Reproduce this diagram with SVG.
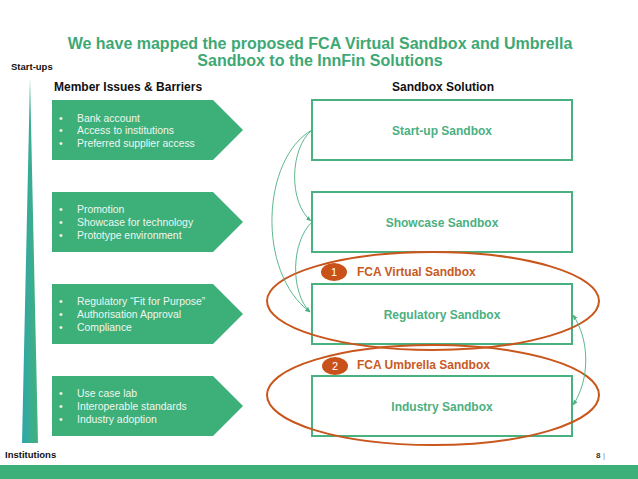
<svg xmlns="http://www.w3.org/2000/svg" width="638" height="479" viewBox="0 0 638 479">
<style>
text{font-family:"Liberation Sans",Arial,sans-serif}
.title{font-size:16px;font-weight:bold;fill:#3ea874}
.hdr{font-size:12px;font-weight:bold;fill:#111}
.axis{font-size:9.5px;font-weight:bold;fill:#111}
.chev{fill:#3daf78}
.ct{font-size:10.4px;fill:#eef7f2}
.box{fill:#fff;stroke:#49b07f;stroke-width:2}
.bt{font-size:12px;font-weight:bold;fill:#4bb07f;text-anchor:middle}
.ell{fill:none;stroke:#c9561c;stroke-width:2}
.badge{fill:#c9521a}
.bn{font-size:11px;fill:#fff;text-anchor:middle}
.ol{font-size:12px;font-weight:bold;fill:#c95a1e}
.con{fill:none;stroke:#4bb07f;stroke-width:0.9}
</style>
<defs>
<linearGradient id="tri" x1="0" y1="0" x2="1" y2="0">
<stop offset="0" stop-color="#2fa6ab"/>
<stop offset="1" stop-color="#42b27a"/>
</linearGradient>
<marker id="ah" viewBox="0 0 10 10" refX="9" refY="5" markerWidth="6" markerHeight="6" orient="auto-start-reverse">
<path d="M0,1 L10,5 L0,9 z" fill="#4bb07f"/>
</marker>
</defs>
<rect width="638" height="479" fill="#fff"/>
<g id="title">
<text class="title" x="320" y="49" text-anchor="middle">We have mapped the proposed FCA Virtual Sandbox and Umbrella</text>
<text class="title" x="320" y="66" text-anchor="middle">Sandbox to the InnFin Solutions</text>
</g>
<g id="axis">
<text class="axis" x="11" y="70">Start-ups</text>
<polygon points="30,78 38,443 22,443" fill="url(#tri)"/>
<text class="axis" x="5" y="458">Institutions</text>
</g>
<g id="headers">
<text class="hdr" x="54" y="91">Member Issues &amp; Barriers</text>
<text class="hdr" x="392" y="91">Sandbox Solution</text>
</g>
<g id="issue1">
<polygon class="chev" points="52,100 213,100 243,130 213,160 52,160"/>
<text class="ct" x="59" y="122">•</text><text class="ct" x="77" y="122">Bank account</text>
<text class="ct" x="59" y="134">•</text><text class="ct" x="77" y="134">Access to institutions</text>
<text class="ct" x="59" y="147">•</text><text class="ct" x="77" y="147">Preferred supplier access</text>
</g>
<g id="issue2">
<polygon class="chev" points="52,192 213,192 243,222 213,252 52,252"/>
<text class="ct" x="59" y="213">•</text><text class="ct" x="77" y="213">Promotion</text>
<text class="ct" x="59" y="226">•</text><text class="ct" x="77" y="226">Showcase for technology</text>
<text class="ct" x="59" y="239">•</text><text class="ct" x="77" y="239">Prototype environment</text>
</g>
<g id="issue3">
<polygon class="chev" points="52,284 213,284 243,314 213,344 52,344"/>
<text class="ct" x="59" y="305">•</text><text class="ct" x="77" y="305">Regulatory “Fit for Purpose”</text>
<text class="ct" x="59" y="318">•</text><text class="ct" x="77" y="318">Authorisation Approval</text>
<text class="ct" x="59" y="331">•</text><text class="ct" x="77" y="331">Compliance</text>
</g>
<g id="issue4">
<polygon class="chev" points="52,376 213,376 243,406 213,436 52,436"/>
<text class="ct" x="59" y="397">•</text><text class="ct" x="77" y="397">Use case lab</text>
<text class="ct" x="59" y="410">•</text><text class="ct" x="77" y="410">Interoperable standards</text>
<text class="ct" x="59" y="423">•</text><text class="ct" x="77" y="423">Industry adoption</text>
</g>
<g id="startup-sandbox">
<rect class="box" x="312" y="100" width="260" height="60"/>
<text class="bt" x="442" y="135">Start-up Sandbox</text>
</g>
<g id="showcase-sandbox">
<rect class="box" x="312" y="192" width="260" height="60"/>
<text class="bt" x="442" y="227">Showcase Sandbox</text>
</g>
<g id="regulatory-sandbox">
<rect class="box" x="312" y="284" width="260" height="60"/>
<text class="bt" x="442" y="319">Regulatory Sandbox</text>
</g>
<g id="industry-sandbox">
<rect class="box" x="312" y="376" width="260" height="60"/>
<text class="bt" x="442" y="411">Industry Sandbox</text>
</g>
<g id="fca-virtual">
<ellipse class="ell" cx="433" cy="301" rx="166" ry="49"/>
<ellipse class="badge" cx="334" cy="272" rx="13" ry="9"/>
<text class="bn" x="334" y="276">1</text>
<text class="ol" x="357" y="276">FCA Virtual Sandbox</text>
</g>
<g id="fca-umbrella">
<ellipse class="ell" cx="433" cy="395" rx="166" ry="50"/>
<ellipse class="badge" cx="335" cy="366" rx="13" ry="9"/>
<text class="bn" x="335" y="370">2</text>
<text class="ol" x="357" y="369">FCA Umbrella Sandbox</text>
</g>
<g id="connectors">
<path class="con" d="M312,130 C290,148 288,202 311,221" marker-end="url(#ah)"/>
<path class="con" d="M312,130 C262,158 256,272 310,312" marker-end="url(#ah)"/>
<path class="con" d="M312,222 C291,242 290,292 310,312" marker-end="url(#ah)"/>
<path class="con" d="M573,315 C590,340 590,380 573,405" marker-start="url(#ah)" marker-end="url(#ah)"/>
</g>
<g id="footer">
<text x="596" y="458" font-size="8" font-weight="bold" fill="#333">8</text>
<text x="603" y="458" font-size="8" fill="#888">|</text>
<rect x="0" y="465" width="638" height="14" fill="#3daf78"/>
</g>
</svg>
